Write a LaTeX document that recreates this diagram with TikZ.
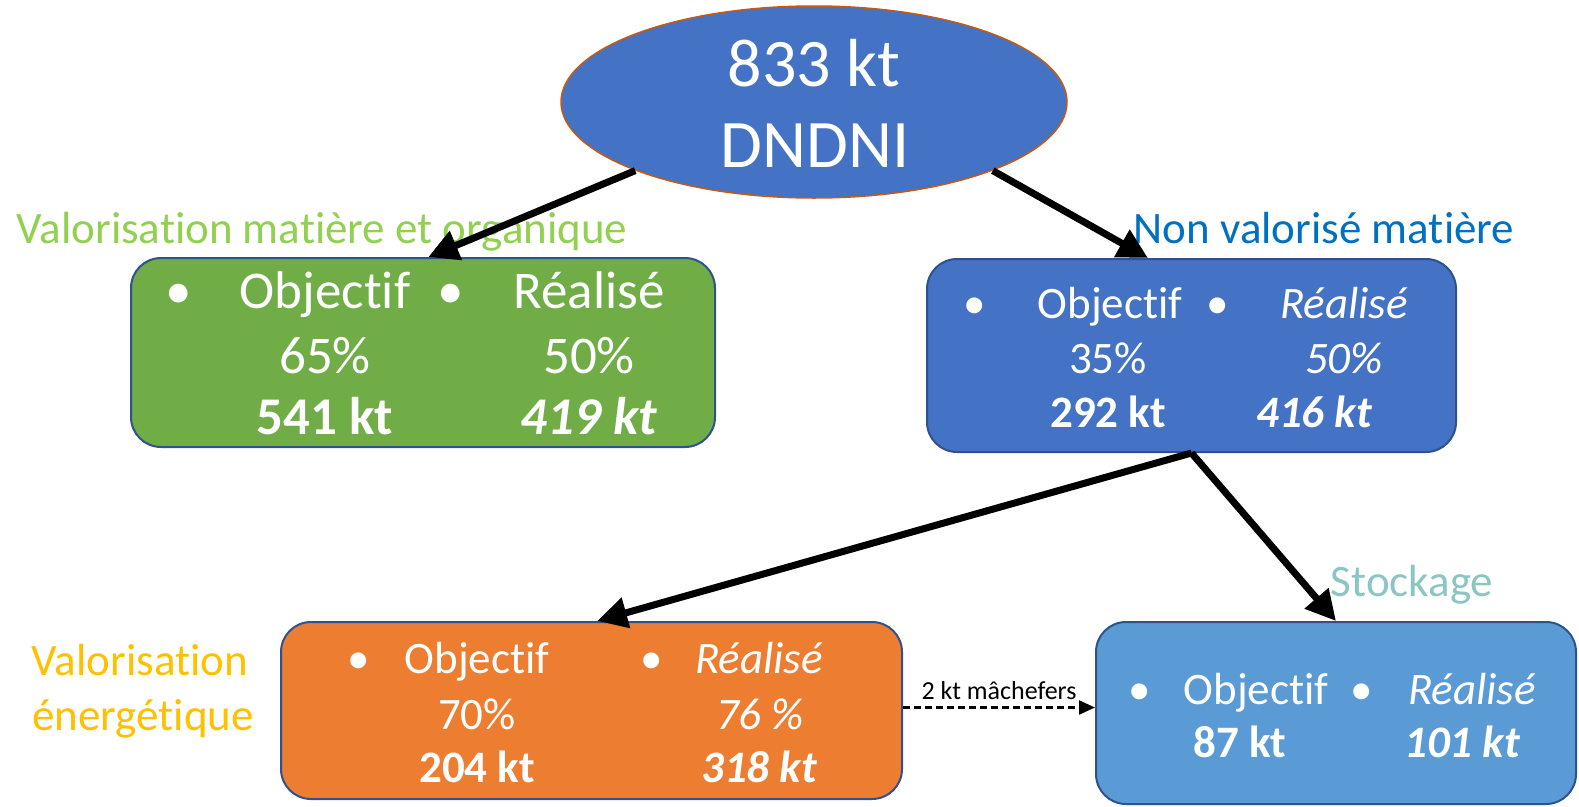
\documentclass[tikz,border=0pt]{standalone}
\usepackage{fontspec}
\setmainfont{Carlito}[Ligatures=NoCommon]
\usetikzlibrary{shapes.geometric,arrows.meta,calc}
\definecolor{cgreen}{HTML}{70AD47}
\definecolor{cblue}{HTML}{4472C4}
\definecolor{corange}{HTML}{ED7D31}
\definecolor{clblue}{HTML}{5B9BD5}
\definecolor{cborder}{HTML}{2F528F}
\definecolor{cellborder}{HTML}{C55A11}
\definecolor{lgreen}{HTML}{92D050}
\definecolor{lblue}{HTML}{0070C0}
\definecolor{lorange}{HTML}{FFC000}
\definecolor{lteal}{HTML}{8CC6C2}
\tikzset{
  box/.style={draw=cborder, line width=2pt, rounded corners=30pt, inner sep=0pt},
  tw/.style={text=white, anchor=base, inner sep=0pt},
  big/.style={font=\fontsize{53}{60}\selectfont},
  mid/.style={font=\fontsize{45}{52}\selectfont},
  lab/.style={anchor=base, inner sep=0pt, font=\fontsize{45}{52}\selectfont},
  flow/.style={line width=7pt, -{Triangle[length=30pt,width=30pt]}},
}
\begin{document}
\begin{tikzpicture}[x=1pt,y=-1pt]
\useasboundingbox (0,0) rectangle (1579,806);
% top ellipse
\node[ellipse, fill=cblue, draw=cellborder, line width=1.5pt, minimum width=506pt, minimum height=192pt, inner sep=0pt] (top) at (814,102) {};
\node[tw, font=\fontsize{68}{81}\selectfont] (t1) at (814,86) {833 kt};
\node[tw, font=\fontsize{68}{81}\selectfont] (t2) at (815,167) {DNDNI};
% boxes
\node[box, fill=cgreen, minimum width=584pt, minimum height=189pt] (g) at (423,352.5) {};
\node[box, fill=cblue, minimum width=529pt, minimum height=193pt] (b) at (1191.5,355.5) {};
\node[box, fill=corange, minimum width=621pt, minimum height=177pt] (o) at (591.5,710.5) {};
\node[box, fill=clblue, minimum width=480pt, minimum height=182pt] (s) at (1336,713) {};
% labels
\node[lab, text=lgreen] (lg) at (322,243) {Valorisation matière et organique};
\node[lab, text=lblue] (lb) at (1324,243) {Non valorisé matière};
\node[lab, text=lteal] (ls) at (1412,596) {Stockage};
\node[lab, text=lorange] (lo1) at (140,675) {Valorisation};
\node[lab, text=lorange] (lo2) at (143,730) {énergétique};
% green box text
\node[tw, big] (gb1) at (179,308) {•};
\node[tw, big] (gb2) at (451,308) {•};
\node[tw, big] (g1) at (325,308) {Objectif};
\node[tw, big] (g2) at (589,308) {Réalisé};
\node[tw, big] (g3) at (325,373) {65\%};
\node[tw, big] (g4) at (589,373) {50\%};
\node[tw, big] (g5) at (325,434) {\bfseries 541 kt};
\node[tw, big] (g6) at (589,434) {\bfseries\itshape 419 kt};
% blue box text
\node[tw, mid] (bb1) at (975,318) {•};
\node[tw, mid] (bb2) at (1218,318) {•};
\node[tw, mid] (b1) at (1110,318) {Objectif};
\node[tw, mid] (b2) at (1344,318) {\itshape Réalisé};
\node[tw, mid] (b3) at (1108,373) {35\%};
\node[tw, mid] (b4) at (1344,373) {\itshape 50\%};
\node[tw, mid] (b5) at (1108,427) {\bfseries 292 kt};
\node[tw, mid] (b6) at (1314,427) {\bfseries\itshape 416 kt};
% orange box text
\node[tw, mid] (ob1) at (359,673) {•};
\node[tw, mid] (ob2) at (652,673) {•};
\node[tw, mid] (o1) at (477,673) {Objectif};
\node[tw, mid] (o2) at (759,673) {\itshape Réalisé};
\node[tw, mid] (o3) at (477,729) {70\%};
\node[tw, mid] (o4) at (760,729) {\itshape 76 \%};
\node[tw, mid] (o5) at (477,782) {\bfseries 204 kt};
\node[tw, mid] (o6) at (759,782) {\bfseries\itshape 318 kt};
% light blue box text
\node[tw, mid] (sb1) at (1140,704) {•};
\node[tw, mid] (sb2) at (1362,704) {•};
\node[tw, mid] (s1) at (1256,704) {Objectif};
\node[tw, mid] (s2) at (1472,704) {\itshape Réalisé};
\node[tw, mid] (s3) at (1240,757) {\bfseries 87 kt};
\node[tw, mid] (s4) at (1462,757) {\bfseries\itshape 101 kt};
% connectors
\draw[flow] (top.201) -- ($(g.north west)!0.509!(g.north east)$);
\draw[flow] (top.-21.5) -- ($(b.north west)!0.418!(b.north east)$);
\draw[flow] (b.south) -- ($(o.north west)!0.509!(o.north east)$);
\draw[flow] (b.south) -- (s.north);
\coordinate (d1) at ($(o.east)+(0,-3)$);
\draw[dash pattern=on 7pt off 4pt, line width=2.2pt, -{Triangle[length=16pt,width=14pt]}] (d1) -- (d1 -| s.west) node[midway, above=7pt, font=\fontsize{26}{30}\selectfont, text=black, inner sep=0pt] (lm) {2 kt mâchefers};
\end{tikzpicture}
\end{document}
